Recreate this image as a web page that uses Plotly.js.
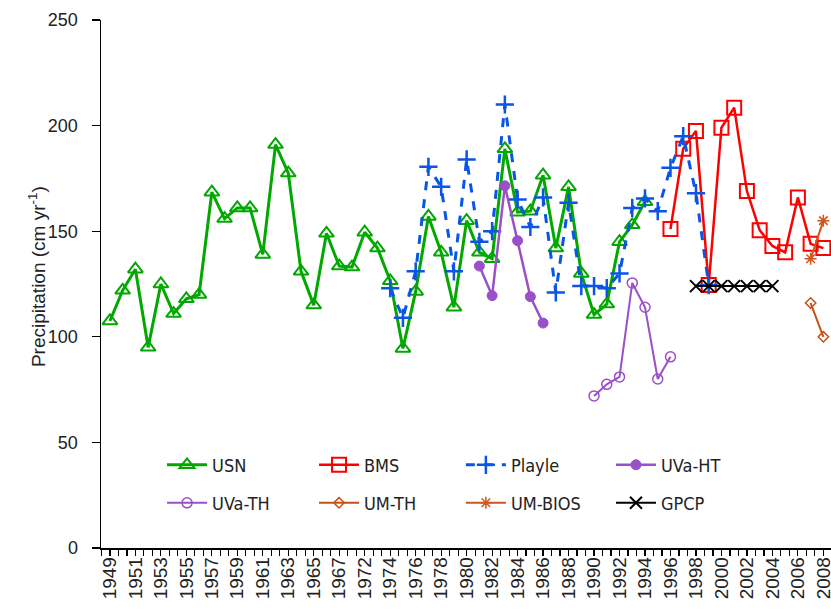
<!DOCTYPE html>
<html><head><meta charset="utf-8">
<script src="https://cdn.plot.ly/plotly-3.0.1.min.js"></script>
<style>html,body{margin:0;padding:0;background:#fff}#chart{width:831px;height:611px}</style>
</head><body><div id="chart"></div>
<script>
// Category years on the x axis (one unlabelled gap category between 1967 and 1972)
var years = [1949,1950,1951,1952,1953,1954,1955,1956,1957,1958,1959,1960,1961,1962,1963,1964,1965,1966,1967,1968,
  1972,1973,1974,1975,1976,1977,1978,1979,1980,1981,1982,1983,1984,1985,1986,1987,1988,1989,1990,1991,1992,1993,1994,
  1995,1996,1997,1998,1999,2000,2001,2002,2003,2004,2005,2006,2007,2008];
var tickYears = [1949,1951,1953,1955,1957,1959,1961,1963,1965,1967,1972,1974,1976,1978,1980,1982,1984,1986,1988,1990,
  1992,1994,1996,1998,2000,2002,2004,2006,2008];

var usnYears = [1949,1950,1951,1952,1953,1954,1955,1956,1957,1958,1959,1960,1961,1962,1963,1964,1965,1966,1967,1968,
  1972,1973,1974,1975,1976,1977,1978,1979,1980,1981,1982,1983,1984,1985,1986,1987,1988,1989,1990,1991,1992,1993,1994];
var usnValues = [107.5,122,132,95,125,111,118,120,168.5,156,161,161,139,191,177.5,131,115,149,133.5,133,
  149.5,142,126.5,94.5,121.5,157,140,114,155,140,137,189,159,159.5,176.5,142,171,130,110.5,115.5,145,153,164];

var bmsYears = [1996,1997,1998,1999,2000,2001,2002,2003,2004,2005,2006,2007,2008];
var bmsValues = [151,189,197.5,124.5,199,208.5,169,150.5,143,140,166,144,142];

var playleYears = [1974,1975,1976,1977,1978,1979,1980,1981,1982,1983,1984,1985,1986,1987,1988,1989,1990,1991,1992,
  1993,1994,1995,1996,1997,1998,1999];
var playleValues = [123,109,131,180.5,171,131,184,145,150,210,165,152,166,121,163.5,124,124,123,130,161,165.5,159.5,
  180,195,168,124.5];

var uvaHTYears = [1981,1982,1983,1984,1985,1986];
var uvaHTValues = [133.5,119.5,171.5,145.5,119,106.5];

var uvaTHYears = [1990,1991,1992,1993,1994,1995,1996];
var uvaTHValues = [72,77.5,81,125.5,114,80,90.5];

var umTHYears = [2007,2008];
var umTHValues = [116,100];

var umBIOSYears = [2007,2008];
var umBIOSValues = [137,155];

var gpcpYears = [1998,1999,2000,2001,2002,2003,2004];
var gpcpValues = [124,124,124,124,124,124,124];

function pos(arr){ return arr.map(function(y){ return years.indexOf(y); }); }

var FONT = 'Liberation Sans, Arial, sans-serif';
var NARROW = 'Liberation Sans Narrow, Arial Narrow, DejaVu Sans Condensed, sans-serif';

function tr(name, xs, ys, color, width, dash, symbol, msize, mlw, legend){
  return {
    type:'scatter', mode:'lines+markers', name:name,
    x: pos(xs), y: ys,
    line:{color:color, width:width, dash:dash},
    marker:{symbol:symbol, size:msize, color:color, line:{color:color, width:mlw}},
    legend: legend, hoverinfo:'skip'
  };
}

var data = [
  tr('USN', usnYears, usnValues, '#00a800', 3, 'solid', 'triangle-up-open', 13, 2, 'legend'),
  tr('BMS', bmsYears, bmsValues, '#ff0000', 2.5, 'solid', 'square-open', 14, 2, 'legend2'),
  tr('Playle', playleYears, playleValues, '#0a55e6', 3, 'dash', 'cross-thin-open', 13, 2.5, 'legend3'),
  tr('UVa-HT', uvaHTYears, uvaHTValues, '#9a50c8', 2.5, 'solid', 'circle', 10, 1, 'legend4'),
  tr('UVa-TH', uvaTHYears, uvaTHValues, '#9a50c8', 2, 'solid', 'circle-open', 10, 1.5, 'legend5'),
  tr('UM-TH', umTHYears, umTHValues, '#c85014', 2, 'solid', 'diamond-open', 8, 1.5, 'legend6'),
  tr('UM-BIOS', umBIOSYears, umBIOSValues, '#d0561e', 2, 'solid', 'asterisk-open', 10, 1.5, 'legend7'),
  tr('GPCP', gpcpYears, gpcpValues, '#000000', 2, 'solid', 'x-thin-open', 12, 2, 'legend8')
];

function leg(x, y){
  return {
    x:x, y:y, orientation:'h', xanchor:'left', yanchor:'middle',
    font:{family:NARROW, size:18, color:'#222'},
    bgcolor:'rgba(0,0,0,0)', borderwidth:0, itemwidth:40,
    itemclick:false, itemdoubleclick:false
  };
}
var colX = [0.0836, 0.2918, 0.493, 0.6986];
var rowY = [0.157, 0.085];

var layout = {
  width:831, height:611,
  margin:{l:101, r:0, t:20, b:63},
  paper_bgcolor:'#fff', plot_bgcolor:'#fff',
  font:{family:FONT, size:16, color:'#222'},
  showlegend:true,
  legend: leg(colX[0], rowY[0]), legend2: leg(colX[1], rowY[0]),
  legend3: leg(colX[2], rowY[0]), legend4: leg(colX[3], rowY[0]),
  legend5: leg(colX[0], rowY[1]), legend6: leg(colX[1], rowY[1]),
  legend7: leg(colX[2], rowY[1]), legend8: leg(colX[3], rowY[1]),
  xaxis:{
    range:[-0.7, 56.6], showgrid:false, zeroline:false,
    showline:true, linecolor:'#000', linewidth:1.5,
    tickmode:'array', tickvals: pos(tickYears), ticktext: tickYears.map(String),
    ticks:'', tickangle:-90, tickfont:{family:FONT, size:19, color:'#222'},
    ticklabeloverflow:'allow',
    minor:{tick0:0, dtick:2/3, ticks:'outside', ticklen:6, tickcolor:'#000', tickwidth:1.2, showgrid:false}
  },
  yaxis:{
    range:[0,250], dtick:50, showgrid:false, zeroline:false,
    showline:true, linecolor:'#000', linewidth:1.5,
    ticks:'outside', ticklen:8, tickcolor:'#000', tickwidth:1.2,
    ticksuffix:'\u00a0\u00a0',
    tickfont:{family:FONT, size:18, color:'#222'}
  },
  annotations:[{
    text:'Precipitation (cm yr<sup>-1</sup>)', textangle:-90,
    xref:'paper', yref:'paper', x:-0.0877, y:0.515, xanchor:'center', yanchor:'middle',
    showarrow:false, font:{family:FONT, size:19, color:'#222'}
  }]
};

Plotly.newPlot('chart', data, layout, {displayModeBar:false, staticPlot:true});
</script>
</body></html>
